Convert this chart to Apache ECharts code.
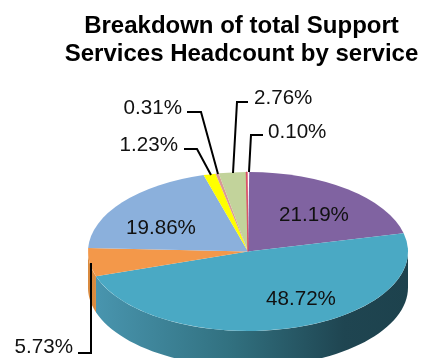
<!DOCTYPE html>
<html>
<head>
<meta charset="utf-8">
<style>html,body{margin:0;padding:0;background:#fff}#chart{width:421px;height:358px}</style>
<script src="https://cdn.jsdelivr.net/npm/echarts@6/dist/echarts.min.js"></script>
</head>
<body>
<div id="chart"></div>
<script>
// Slice shares in percent, clockwise from twelve o'clock
const shares = [21.19, 48.72, 5.73, 19.86, 1.23, 0.31, 2.76, 0.10];
const sliceColors = ['#8063a1', '#4aa9c4', '#f3984a', '#8bb0dc', '#ffff00', '#d99a96', '#c2d39b', '#d8405c'];
const titleText = 'Breakdown of total Support\nServices Headcount by service';

// Tilted-disc geometry in pixels
const disc = { cx: 248, cy: 251.5, rx: 160, ry: 79.5, depth: 36 };
const fullTurn = 100.1;
const startOffset = 0.12;

// Running start/end angles per slice, clockwise from the +x axis in radians
const spans = [];
shares.reduce((acc, v) => {
  const a0 = (acc / fullTurn) * 2 * Math.PI - Math.PI / 2;
  const a1 = ((acc + v) / fullTurn) * 2 * Math.PI - Math.PI / 2;
  spans.push([a0, a1]);
  return acc + v;
}, startOffset);

const rimPoint = (a) => [disc.cx + disc.rx * Math.cos(a), disc.cy + disc.ry * Math.sin(a)];

// Label placement per slice: text anchor, alignment and leader elbow points (null = no leader)
const labelPlacement = [
  { x: 314, y: 215, align: 'center', leader: null },
  { x: 301, y: 299, align: 'center', leader: null },
  { x: 73, y: 347, align: 'right', leader: [[91, 263], [91, 353], [78, 353]] },
  { x: 161, y: 228, align: 'center', leader: null },
  { x: 178, y: 145, align: 'right', leader: [[211, 175], [197, 149], [184, 149]] },
  { x: 182, y: 108, align: 'right', leader: [[218, 174], [201, 112], [187, 112]] },
  { x: 254, y: 98, align: 'left', leader: [[233, 173], [237, 102], [248, 102]] },
  { x: 268, y: 132, align: 'left', leader: [[249, 172], [251, 135], [263, 135]] }
];

// Side wall shading for each slice that reaches the front half of the disc
const wallFill = (i) => {
  const stops = i === 1
    ? [[0, '#4a97b1'], [0.45, '#31707f'], [0.8, '#1f4551'], [1, '#1d424d']]
    : [[0, '#d98a3f'], [1, '#c97a30']];
  return {
    type: 'linear', x: disc.cx - disc.rx, y: 0, x2: disc.cx + disc.rx, y2: 0, global: true,
    colorStops: stops.map(([offset, color]) => ({ offset, color }))
  };
};

const renderWall = (params) => {
  const [a0, a1] = spans[params.dataIndex];
  const from = Math.max(a0, 0);
  const to = Math.min(a1, Math.PI);
  if (to <= from) return { type: 'group', children: [] };
  const top = [];
  const n = 60;
  for (let k = 0; k <= n; k++) top.push(rimPoint(from + (to - from) * k / n));
  const bottom = top.map(([x, y]) => [x, y + disc.depth]).reverse();
  return {
    type: 'polygon',
    shape: { points: top.concat(bottom) },
    style: { fill: wallFill(params.dataIndex) }
  };
};

// The thinnest slices get a hairline of their own colour so they stay visible
const renderFace = (params) => {
  const [a0, a1] = spans[params.dataIndex];
  const color = sliceColors[params.dataIndex];
  const thin = shares[params.dataIndex] < 0.2;
  return {
    type: 'group',
    x: disc.cx,
    y: disc.cy,
    scaleY: disc.ry / disc.rx,
    children: [{
      type: 'sector',
      shape: { cx: 0, cy: 0, r0: 0, r: disc.rx, startAngle: a0, endAngle: a1, clockwise: true },
      style: thin ? { fill: color, stroke: color, lineWidth: 1 } : { fill: color }
    }]
  };
};

const renderLabel = (params, api) => {
  const place = labelPlacement[params.dataIndex];
  const children = [];
  if (place.leader) {
    children.push({
      type: 'polyline',
      shape: { points: place.leader },
      style: { fill: 'none', stroke: '#000', lineWidth: 2 }
    });
  }
  children.push({
    type: 'text',
    x: place.x,
    y: place.y,
    style: {
      text: api.value(0).toFixed(2) + '%',
      fill: '#111',
      font: '20.6px "Liberation Sans", Arial, sans-serif',
      align: place.align,
      verticalAlign: 'middle'
    }
  });
  return { type: 'group', children };
};

const chart = echarts.init(document.getElementById('chart'), null, { renderer: 'canvas' });
const seriesData = shares.map((v) => [v]);
chart.setOption({
  animation: false,
  backgroundColor: '#fff',
  title: {
    text: titleText,
    left: 241.5,
    top: 12,
    textAlign: 'center',
    padding: 0,
    textStyle: {
      fontFamily: '"Liberation Sans", Arial, sans-serif',
      fontWeight: 'bold',
      fontSize: 24,
      lineHeight: 28,
      color: '#000'
    }
  },
  series: [
    { type: 'custom', coordinateSystem: 'none', renderItem: renderWall, data: seriesData, silent: true, z: 1, clip: false },
    { type: 'custom', coordinateSystem: 'none', renderItem: renderFace, data: seriesData, silent: true, z: 2, clip: false },
    { type: 'custom', coordinateSystem: 'none', renderItem: renderLabel, data: seriesData, silent: true, z: 3, clip: false }
  ]
});
</script>
</body>
</html>
